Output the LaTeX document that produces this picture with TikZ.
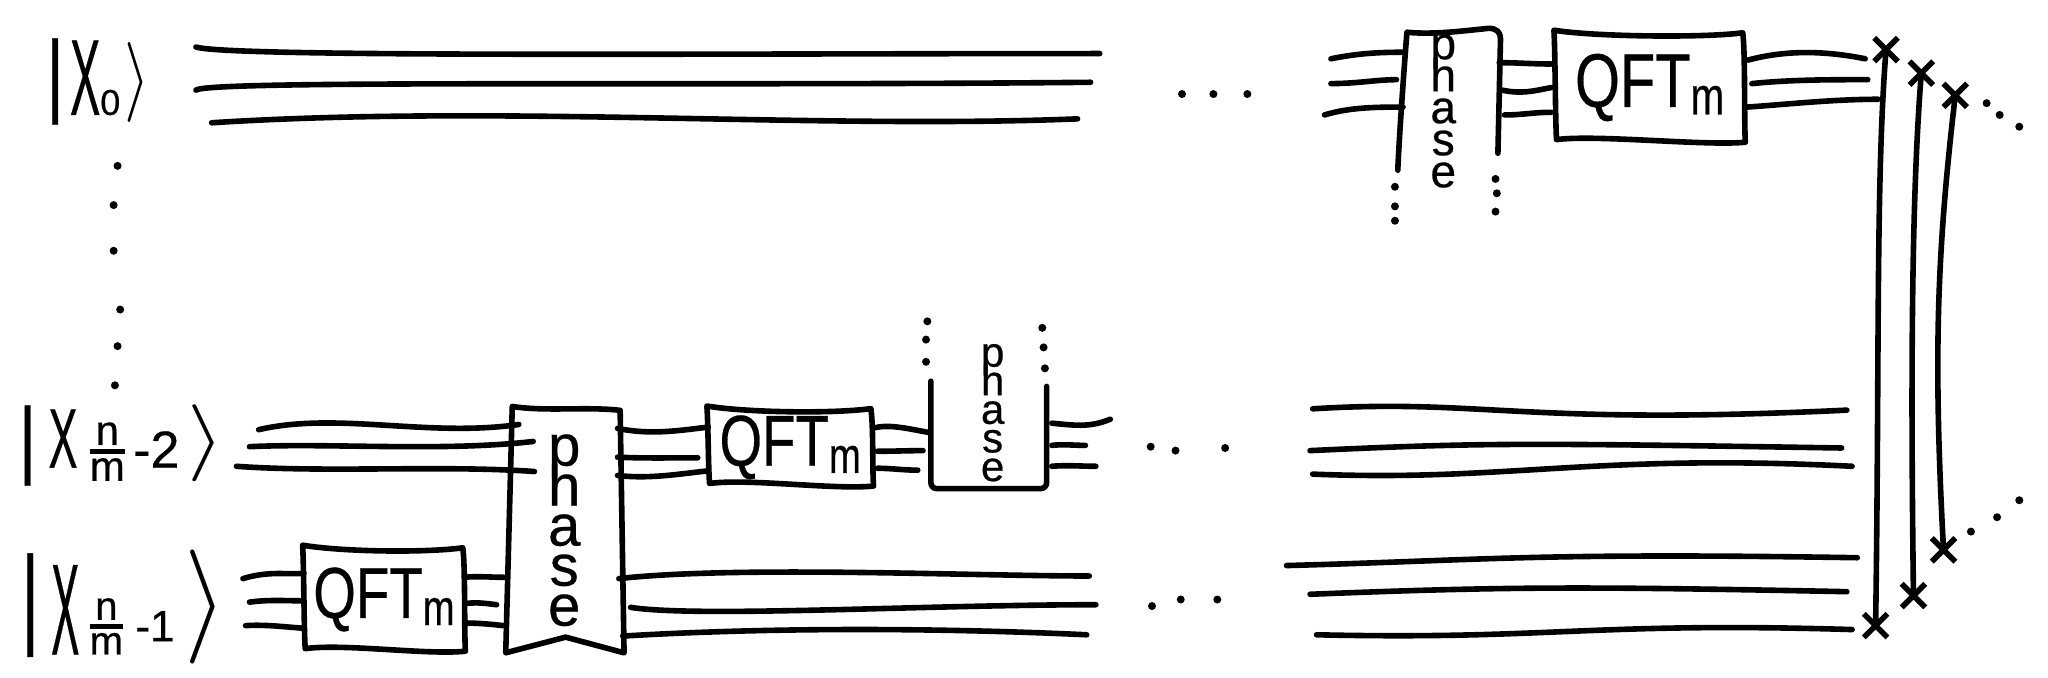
\documentclass[tikz,border=0pt]{standalone}
\usepackage{fontspec}
\setmainfont{Liberation Sans}[FakeBold=0.5]
\usetikzlibrary{shapes.misc}

% scales: x, y, raise
\newcommand{\ketbar}[3]{\raisebox{#3}{\scalebox{#1}[#2]{\fontsize{46}{46}\selectfont|}}}
\newcommand{\ketx}[2]{\scalebox{#1}[#2]{\fontsize{54}{54}\selectfont X}}
\newcommand{\ketend}[3]{\raisebox{#3}{\scalebox{#1}[#2]{$\rangle$}}}
\newcommand{\nmfrac}[2]{\raisebox{#2}{${\mbox{\fontsize{#1}{#1}\selectfont n}\above 2.2pt\mbox{\fontsize{#1}{#1}\selectfont m}}$}}
\newcommand{\qftm}[1]{\scalebox{.76}[1]{\fontsize{#1}{#1}\selectfont QFT\raisebox{-.1em}{\fontsize{.7em}{.7em}\selectfont m}}}
\newcommand{\stackfont}[2]{\fontsize{#1}{#2}\selectfont\lineskiplimit=-100pt}
% hand drawn outline round a named box
\newcommand{\handbox}[1]{\draw[boxline] ([shift={(-1,-3)}]#1.north west) .. controls +(30,5) and +(-30,4) .. ([shift={(-1,-1)}]#1.north east) .. controls +(2,15) and +(-1,-15) .. ([shift={(1,1)}]#1.south east) .. controls +(-30,3) and +(30,-4) .. ([shift={(1,-1)}]#1.south west) .. controls +(-1,-15) and +(1,15) .. cycle;}

\tikzset{
  wire/.style={line width=2.8pt,line cap=round},
  boxline/.style={line width=2.8pt,line cap=round,line join=round},
  qftbox/.style={inner sep=0pt},
  phasebox/.style={inner sep=0pt},
  phasetext/.style={align=center,inner sep=0pt},
  kettext/.style={inner sep=0pt,anchor=base west},
  swapx/.style={cross out,draw,line width=2.8pt,minimum size=9pt,inner sep=0pt},
  dotmark/.style={circle,fill=black,inner sep=0pt,minimum size=4pt}
}

\begin{document}
\begin{tikzpicture}[x=0.653pt,y=-0.653pt]
\useasboundingbox (0,0) rectangle (1568,519);

% kets
\node[kettext] (ketA) at (35,88) {\ketbar{.75}{1}{5pt}\hspace{3pt}\ketx{.42}{1}{\fontsize{18}{18}\selectfont 0}\hspace{2pt}\ketend{3.3}{4}{6pt}};
\node[kettext] (ketB) at (14,358) {\ketbar{.75}{.93}{0pt}\hspace{6pt}\ketx{.4}{.78}\hspace{5pt}\nmfrac{21}{5.5pt}\hspace{3pt}{\fontsize{26}{26}\selectfont -2}\hspace{4pt}\ketend{4.8}{3.85}{2.4pt}};
\node[kettext] (ketC) at (16,501) {\ketbar{.75}{1.2}{10.5pt}\hspace{6pt}\ketx{.39}{1.2}\hspace{4pt}\nmfrac{20}{11.5pt}\hspace{5pt}\raisebox{6.5pt}{\fontsize{22}{22}\selectfont -1}\hspace{5pt}\ketend{5.5}{5.7}{9.2pt}};

% boxes
\node[qftbox,minimum width=79.7pt,minimum height=50pt] (qftA) at (294,459) {\qftm{36}};
\node[qftbox,minimum width=81.6pt,minimum height=37pt] (qftB) at (605,342.5) {\qftm{36}};
\node[qftbox,minimum width=94pt,minimum height=53pt] (qftC) at (1263,67) {\qftm{38}};
\node[phasebox,minimum width=56.8pt,minimum height=119.5pt] (phA) at (433,406) {};
\node[phasebox,minimum width=57.5pt,minimum height=52pt] (phB) at (757,334) {};
\node[phasebox,minimum width=49pt,minimum height=62.7pt] (phC) at (1112,74) {};
\handbox{qftA}
\handbox{qftB}
\handbox{qftC}

% phase outlines
\draw[boxline] ([shift={(3,-3)}]phA.north west) .. controls +(25,4) and +(-25,-3) .. ([shift={(-2,0)}]phA.north east) -- ([shift={(1,2)}]phA.south east) .. controls +(-15,-4) and +(15,4) .. ([shift={(0,-10)}]phA.south) .. controls +(-15,4) and +(15,-4) .. ([shift={(-2,2)}]phA.south west) -- cycle;
\draw[boxline,rounded corners=3pt] ([shift={(0,-2)}]phB.north west) -- (phB.south west) -- (phB.south east) -- ([shift={(0,2)}]phB.north east);
\draw[boxline] ([shift={(-4,8)}]phC.south west) .. controls +(1,-25) and +(-2,25) .. ([shift={(3,-1)}]phC.north west) .. controls +(20,2) and +(-20,2) .. ([shift={(-10,-4)}]phC.north east) .. controls +(6,0) and +(0,-5) .. ([shift={(-1,4)}]phC.north east) -- ([shift={(-3,-5)}]phC.south east);

% phase letters
\node[phasetext,font=\stackfont{29}{20}] (phAtxt) at (432,406) {p\\h\\a\\s\\e};
\node[phasetext,font=\stackfont{21}{14.3}] (phBtxt) at (760,316) {p\\h\\a\\s\\e};
\node[phasetext,font=\stackfont{23}{16}] (phCtxt) at (1105,85) {p\\h\\a\\s\\e};

% free wire ends
\foreach \name/\x/\y in {ta/150/36,tb/150/69,tc/162/94,td/842/41,te/835/63,tf/825/91,
  ia/186/443,ib/191/461,ic/188/479,
  ja/198/329,jb/191/342,jc/181/357,
  ka/850/321,kb/831/341,kc/839/357,
  ma/834/441,mb/839/463,mc/832/486,
  na/1019/45,nb/1019/64,nc/1014/88,
  oa/1428/45,ob/1430/61,oc/1438/76,
  ra/1005/313,rb/1003/345,rc/1005/363,sa/1414/314,sb/1410/343,sc/1418/357,
  ua/985/433,ub/1003/455,uc/1008/486,va/1422/427,vb/1414/453,vc/1418/482}
  \coordinate (\name) at (\x,\y);

% long wires
\draw[wire] (ta) .. controls +(25,8) and +(-300,0) .. (td);
\draw[wire] (tb) .. controls +(10,-8) and +(-300,3) .. (te);
\draw[wire] (tc) .. controls +(220,-14) and +(-200,8) .. (tf);
\draw[wire] (ra) .. controls +(130,-8) and +(-250,12) .. (sa);
\draw[wire] (rb) .. controls +(130,-6) and +(-250,-4) .. (sb);
\draw[wire] (rc) .. controls +(150,6) and +(-200,-10) .. (sc);
\draw[wire] (ua) .. controls +(150,-4) and +(-250,-4) .. (va);
\draw[wire] (ub) .. controls +(150,-6) and +(-200,-4) .. (vb);
\draw[wire] (uc) .. controls +(180,4) and +(-200,-6) .. (vc);

% wires around the boxes
\draw[wire] (ia) .. controls +(20,-6) and +(-15,1) .. ([shift={(0,-20)}]qftA.west);
\draw[wire] (ib) .. controls +(15,-2) and +(-15,0) .. ([shift={(0,1)}]qftA.west);
\draw[wire] (ic) .. controls +(15,-1) and +(-15,-1) .. ([shift={(0,22)}]qftA.west);
\draw[wire] ([shift={(0,-17)}]qftA.east) .. controls +(10,-1) and +(-10,0) .. ([shift={(-3,36)}]phA.west);
\draw[wire] ([shift={(2,3)}]qftA.east) .. controls +(8,-1) and +(-8,-1) .. ([shift={(-9,57)}]phA.west);
\draw[wire] ([shift={(2,18)}]qftA.east) .. controls +(8,0) and +(-8,-1) .. ([shift={(-4,73)}]phA.west);
\draw[wire] (ja) .. controls +(60,-14) and +(-70,10) .. ([shift={(8,-81)}]phA.west);
\draw[wire] (jb) .. controls +(60,-3) and +(-70,8) .. ([shift={(19,-68)}]phA.west);
\draw[wire] (jc) .. controls +(70,5) and +(-70,-5) .. ([shift={(20,-45)}]phA.west);
\draw[wire] ([shift={(-4,-78)}]phA.east) .. controls +(25,5) and +(-25,3) .. ([shift={(0,-15.5)}]qftB.west);
\draw[wire] ([shift={(-4,-56)}]phA.east) .. controls +(20,1) and +(-20,0) .. ([shift={(-8,8)}]qftB.west);
\draw[wire] ([shift={(-4,-42)}]phA.east) .. controls +(25,3) and +(-20,2) .. ([shift={(0,18)}]qftB.west);
\draw[wire] ([shift={(-3,37)}]phA.east) .. controls +(90,-10) and +(-90,0) .. (ma);
\draw[wire] ([shift={(6,59)}]phA.east) .. controls +(50,8) and +(-130,0) .. (mb);
\draw[wire] ([shift={(0,81)}]phA.east) .. controls +(100,-6) and +(-130,-6) .. (mc);
\draw[wire] ([shift={(2,-15)}]qftB.east) .. controls +(12,-3) and +(-12,-2) .. ([shift={(-2,-3)}]phB.west);
\draw[wire] ([shift={(4,3)}]qftB.east) .. controls +(12,0) and +(-10,0) .. ([shift={(-6,11)}]phB.west);
\draw[wire] ([shift={(4,16)}]qftB.east) .. controls +(10,0) and +(-10,0) .. ([shift={(-10,26)}]phB.west);
\draw[wire] ([shift={(4,-10)}]phB.east) .. controls +(20,2) and +(-15,6) .. (ka);
\draw[wire] ([shift={(4,7)}]phB.east) .. controls +(8,-1) and +(-8,0) .. (kb);
\draw[wire] ([shift={(4,23)}]phB.east) .. controls +(12,-1) and +(-12,0) .. (kc);
\draw[wire] (na) .. controls +(20,-4) and +(-20,0) .. ([shift={(0,-34)}]phC.west);
\draw[wire] (nb) .. controls +(20,0) and +(-15,0) .. ([shift={(-5,-13)}]phC.west);
\draw[wire] (nc) .. controls +(20,-6) and +(-20,0) .. ([shift={(0,8)}]phC.west);
\draw[wire] ([shift={(-2,-26)}]phC.east) .. controls +(15,0) and +(-15,0) .. ([shift={(-3,-18)}]qftC.west);
\draw[wire] ([shift={(0,-5)}]phC.east) .. controls +(15,3) and +(-15,3) .. ([shift={(-3,0)}]qftC.west);
\draw[wire] ([shift={(2,14)}]phC.east) .. controls +(15,0) and +(-15,0) .. ([shift={(-3,19)}]qftC.west);
\draw[wire] ([shift={(3,-21)}]qftC.east) .. controls +(30,-8) and +(-30,-6) .. (oa);
\draw[wire] ([shift={(6,-3)}]qftC.east) .. controls +(30,-3) and +(-30,0) .. (ob);
\draw[wire] ([shift={(2,15)}]qftC.east) .. controls +(30,-2) and +(-35,0) .. (oc);

% swaps
\node[swapx] (swAt) at (1444,38) {};
\node[swapx] (swAb) at (1436,479) {};
\node[swapx] (swBt) at (1471,56) {};
\node[swapx] (swBb) at (1465,456) {};
\node[swapx] (swCt) at (1497,73) {};
\node[swapx] (swCb) at (1488,421) {};
\draw[wire] (swAt.center) .. controls +(-8,100) and +(3,-200) .. (swAb.center);
\draw[wire] (swBt.center) .. controls +(-8,100) and +(-2,-150) .. (swBb.center);
\draw[wire] (swCt.center) .. controls +(-14,120) and +(-8,-150) .. (swCb.center);

% dots
\foreach \i/\x/\y in {a/90/127,b/87/157,c/87/192,d/92/237,e/90/265,f/88/295,
  g/905/72,h/929/72,i/955/72,
  j/1068/143,k/1068/158,l/1068/169,m/1145/137,n/1146/148,o/1145/162,
  p/1521/79,q/1531/88,r/1546/97,
  s/710/246,t/709/260,u/709/277,v/798/251,w/799/266,x/800/282,
  y/881/342,z/900/345,A/938/343,
  B/882/464,C/904/459,D/932/459,
  E/1509/407,F/1529/396,G/1546/383}
  \node[dotmark] (dot\i) at (\x,\y) {};

\end{tikzpicture}
\end{document}
